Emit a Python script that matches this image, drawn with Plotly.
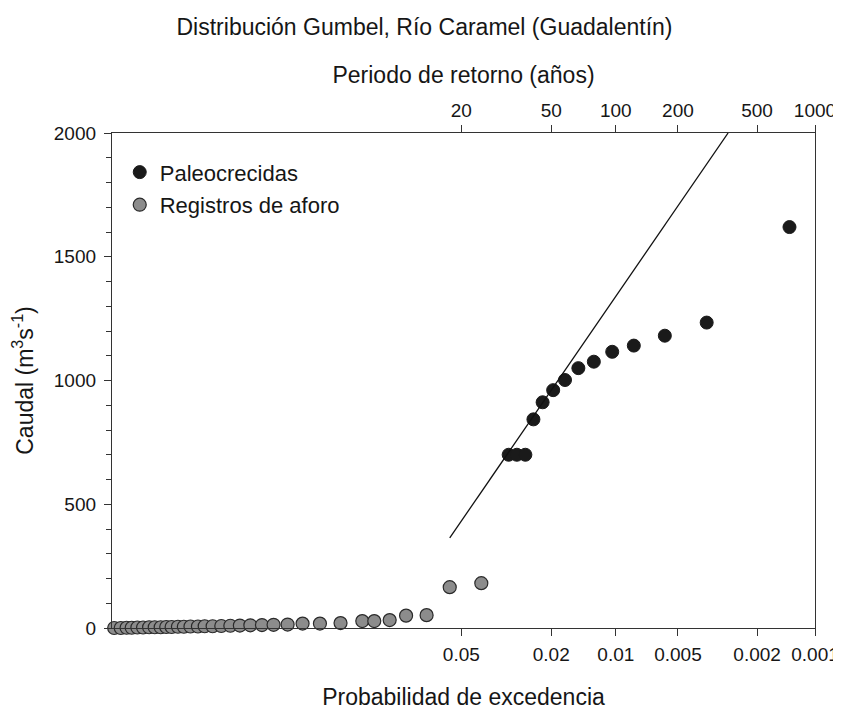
import numpy as np
import plotly.graph_objects as go

# ---------------- data ----------------
# Registros de aforo (gauge records): exceedance probability, caudal (m3/s)
prob_aforo = [0.796, 0.769, 0.745, 0.724, 0.701, 0.678, 0.654, 0.632, 0.609, 0.588,
              0.568, 0.545, 0.524, 0.501, 0.476, 0.454, 0.429, 0.403, 0.377, 0.351,
              0.324, 0.296, 0.270, 0.241, 0.213, 0.184, 0.154, 0.127, 0.114, 0.099,
              0.085, 0.070, 0.056, 0.041]
caudal_aforo = [0, 0, 1, 1, 2, 2, 3, 3, 3, 4,
                4, 5, 5, 6, 6, 7, 7, 8, 9, 10,
                11, 12, 13, 14, 18, 18, 20, 28, 28, 32,
                50, 52, 165, 181]

# Paleocrecidas (palaeofloods)
prob_paleo = [0.0311, 0.0286, 0.0262, 0.0241, 0.0219, 0.0196, 0.0173, 0.0150,
              0.0127, 0.0104, 0.0082, 0.0058, 0.0036, 0.00136]
caudal_paleo = [700, 700, 700, 843, 912, 961, 1002, 1050,
                1076, 1116, 1141, 1181, 1234, 1620]

# Fitted Gumbel line (end points)
prob_ajuste = [0.0560, 0.00281]
caudal_ajuste = [364, 2000]

# Axis ticks
prob_ticks = [0.05, 0.02, 0.01, 0.005, 0.002, 0.001]
prob_ticklabels = ["0.05", "0.02", "0.01", "0.005", "0.002", "0.001"]
periodo_ticks = [20, 50, 100, 200, 500, 1000]
periodo_ticklabels = ["20", "50", "100", "200", "500", "1000"]
y_ticks = [0, 500, 1000, 1500, 2000]

P_LEFT, P_RIGHT = 0.805, 0.001


def escala(p):
    """Probability-paper transform used by the horizontal axis."""
    p = np.asarray(p, dtype=float)
    return (-np.log(p)) ** 0.75


FONT = "Arial, Liberation Sans, Helvetica, sans-serif"
TXT = "#161616"
AX = "#333333"

fig = go.Figure()

fig.add_trace(go.Scatter(
    x=escala(prob_ajuste), y=caudal_ajuste, mode="lines",
    line=dict(color="#111111", width=1.3), showlegend=False,
    xaxis="x2", hoverinfo="skip"))

fig.add_trace(go.Scatter(
    x=escala(prob_paleo), y=caudal_paleo, mode="markers", name="Paleocrecidas",
    legendgroup="a",
    marker=dict(size=13, color="#1a1a1a", line=dict(color="#1a1a1a", width=1)),
    cliponaxis=False))

fig.add_trace(go.Scatter(
    x=escala(prob_aforo), y=caudal_aforo, mode="markers", name="Registros de aforo",
    legendgroup="b",
    marker=dict(size=13, color="#8c8c8c", line=dict(color="#2a2a2a", width=1.2)),
    cliponaxis=False))

xr = [float(escala(P_LEFT)), float(escala(P_RIGHT))]
periodo_prob = [1.0 / t for t in periodo_ticks]

# The page body adds an 8 px margin, so the figure is shifted by 8 px.
fig.update_layout(
    width=833, height=702,
    margin=dict(l=104, r=26, t=125, b=82),
    paper_bgcolor="white", plot_bgcolor="white",
    font=dict(family=FONT, color=TXT, size=19),
    title=dict(text="Distribución Gumbel, Río Caramel (Guadalentín)",
               x=0.5, xanchor="center", y=0.973, yanchor="middle",
               font=dict(size=23, family=FONT, color=TXT)),
    showlegend=True,
    legend=dict(x=0.011, y=0.963, xanchor="left", yanchor="top",
                bgcolor="rgba(0,0,0,0)", font=dict(size=22, family=FONT, color=TXT),
                tracegroupgap=1, itemwidth=30),
    xaxis=dict(range=xr, tickmode="array", tickvals=escala(prob_ticks).tolist(),
               ticktext=prob_ticklabels, ticks="outside", ticklen=7, tickwidth=1.2,
               tickcolor=AX, showline=True, linecolor=AX, linewidth=1.3,
               showgrid=False, zeroline=False, tickfont=dict(size=19),
               automargin=False, ticklabelstandoff=2, ticklabeloverflow="allow",
               title=dict(text="Probabilidad de excedencia", font=dict(size=23),
                          standoff=30)),
    xaxis2=dict(range=xr, overlaying="x", side="top", anchor="y",
                tickmode="array", tickvals=escala(periodo_prob).tolist(),
                ticktext=periodo_ticklabels, ticks="outside", ticklen=7,
                tickwidth=1.2, tickcolor=AX, showline=True, linecolor=AX,
                linewidth=1.3, showgrid=False, zeroline=False,
                tickfont=dict(size=19), automargin=False, ticklabeloverflow="allow",
                title=dict(text="Periodo de retorno (años)", font=dict(size=23),
                           standoff=10)),
    yaxis=dict(range=[0, 2000], tickmode="array", tickvals=y_ticks,
               ticks="outside", ticklen=7, tickwidth=1.2, tickcolor=AX,
               showline=True, mirror=True, linecolor=AX, linewidth=1.3,
               showgrid=False, zeroline=False, tickfont=dict(size=19),
               automargin=False, ticklabelstandoff=4,
               minor=dict(dtick=100, ticks="outside", ticklen=5, tickwidth=1.2,
                          tickcolor=AX, showgrid=False),
               title=dict(text="Caudal (m<sup>3</sup>s<sup>-1</sup>)",
                          font=dict(size=23), standoff=14)),
)

fig.write_html("out.html")
